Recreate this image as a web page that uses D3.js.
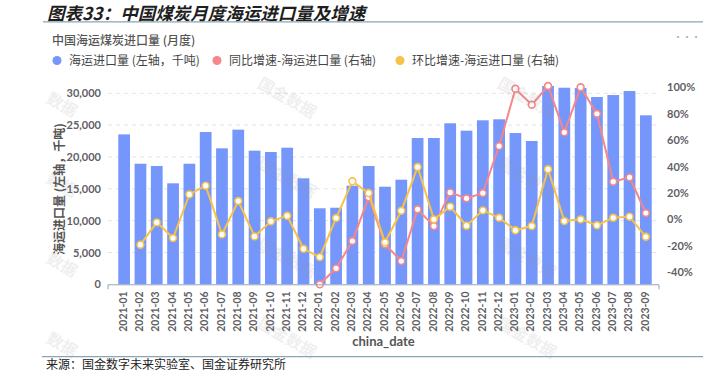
<!DOCTYPE html>
<html>
<head>
<meta charset="utf-8">
<script src="https://cdn.jsdelivr.net/npm/d3@7"></script>
<style>
  body { margin: 0; background: #fff; }
  svg { display: block; font-family: "Noto Sans CJK SC", sans-serif; }
</style>
</head>
<body>
<svg id="chart" width="707" height="383"></svg>
<script>
// data
const months = [
  "2021-01", "2021-02", "2021-03", "2021-04", "2021-05", "2021-06", "2021-07", "2021-08", "2021-09", "2021-10", "2021-11", "2021-12",
  "2022-01", "2022-02", "2022-03", "2022-04", "2022-05", "2022-06", "2022-07", "2022-08", "2022-09", "2022-10", "2022-11", "2022-12",
  "2023-01", "2023-02", "2023-03", "2023-04", "2023-05", "2023-06", "2023-07", "2023-08", "2023-09"
];
// 海运进口量 (千吨)
const imports = [
  23550, 18940, 18580, 15860, 18940, 23920, 21360, 24290, 20990, 20780, 21460, 16650,
  11940, 12030, 15490, 18580, 15330, 16430, 22980, 22980, 25290, 24130, 25760, 25920,
  23760, 22510, 31150, 30880, 30830, 29420, 29730, 30360, 26540
];
// 同比增速 (%)
const yoy = [
  null, null, null, null, null, null, null, null, null, null, null, null,
  -49.2, -37.1, -16.4, 16.7, -18.9, -31.6, 7.6, -5.1, 20.4, 15.9, 19.9, 55.5,
  98.9, 86.8, 101.0, 65.9, 100.0, 80.0, 28.5, 31.8, 4.8
];
// 环比增速 (%)
const mom = [
  null, -19.2, -2.3, -14.2, 18.9, 25.5, -11.4, 13.9, -12.9, -1.5, 2.7, -22.3,
  -28.6, 1.0, 28.8, 19.9, -17.4, 6.5, 39.6, 0.0, 9.6, -4.8, 6.8, 1.2,
  -8.3, -5.1, 37.9, -1.3, 0.0, -4.5, 1.2, 2.0, -13.2
];
const leftTicks = [0, 5000, 10000, 15000, 20000, 25000, 30000];
const rightTicks = [-40, -20, 0, 20, 40, 60, 80, 100];
const seriesNames = ["海运进口量 (左轴，千吨)", "同比增速-海运进口量 (右轴)", "环比增速-海运进口量 (右轴)"];

const colors = { bar: "#7596fb", yoy: "#f6868a", mom: "#f7c24a" };
const svg = d3.select("#chart");
const plot = { left: 108, right: 659, top: 86, bottom: 284.3 };

// title block
svg.append("text")
  .attr("x", 47).attr("y", 19.5)
  .style("font-size", "17.5px").style("font-style", "italic").style("font-weight", "bold")
  .attr("fill", "#1e1e1e")
  .text("图表33：中国煤炭月度海运进口量及增速");
svg.append("line")
  .attr("x1", 43).attr("x2", 703).attr("y1", 21.8).attr("y2", 21.8)
  .attr("stroke", "#8aa4b4").attr("stroke-width", 1.3);

svg.append("text")
  .attr("x", 52).attr("y", 45)
  .style("font-size", "12px").style("font-weight", 500)
  .attr("fill", "#555")
  .text("中国海运煤炭进口量 (月度)");
svg.append("text")
  .attr("x", 687).attr("y", 40).attr("text-anchor", "middle")
  .style("font-size", "9px").attr("fill", "#aaa")
  .text("···");

// legend
const legendX = [57, 217, 400];
const legendColors = [colors.bar, colors.yoy, colors.mom];
const legend = svg.append("g");
seriesNames.forEach((name, i) => {
  legend.append("circle")
    .attr("cx", legendX[i]).attr("cy", 60.5).attr("r", 4.5)
    .attr("fill", legendColors[i]);
  legend.append("text")
    .attr("x", legendX[i] + 12).attr("y", 64.8)
    .style("font-size", "12px").attr("fill", "#444")
    .text(name);
});

// scales
const xScale = d3.scaleBand()
  .domain(months)
  .range([116, 654])
  .paddingInner(0.28)
  .paddingOuter(0.14);

const yLeft = d3.scaleLinear()
  .domain([0, d3.max(imports)])
  .range([plot.bottom, plot.top]);

const yRight = d3.scaleLinear()
  .domain(d3.extent(yoy.concat(mom).filter((d) => d != null)))
  .range([plot.bottom, plot.top]);

// dashed grid on the left ticks
svg.append("g")
  .selectAll("line")
  .data(leftTicks.slice(1))
  .enter()
  .append("line")
  .attr("x1", plot.left).attr("x2", plot.right)
  .attr("y1", (d) => yLeft(d)).attr("y2", (d) => yLeft(d))
  .attr("stroke", "#e4e4e4")
  .attr("stroke-dasharray", "4,4");

// bars
svg.append("g")
  .selectAll("rect")
  .data(imports)
  .enter()
  .append("rect")
  .attr("x", (d, i) => xScale(months[i]))
  .attr("y", (d) => yLeft(d))
  .attr("width", xScale.bandwidth())
  .attr("height", (d) => plot.bottom - yLeft(d))
  .attr("fill", colors.bar);

// lines
const cx = (i) => xScale(months[i]) + xScale.bandwidth() / 2;
function drawLine(values, color) {
  const line = d3.line()
    .defined((d) => d != null)
    .x((d, i) => cx(i))
    .y((d) => yRight(d));
  svg.append("path")
    .datum(values)
    .attr("d", line)
    .attr("fill", "none")
    .attr("stroke", color)
    .attr("stroke-width", 2);
  svg.append("g")
    .selectAll("circle")
    .data(values.map((v, i) => ({ v, i })).filter((d) => d.v != null))
    .enter()
    .append("circle")
    .attr("cx", (d) => cx(d.i))
    .attr("cy", (d) => yRight(d.v))
    .attr("r", 3.4)
    .attr("fill", "#fff")
    .attr("stroke", color)
    .attr("stroke-width", 1.6);
}
drawLine(yoy, colors.yoy);
drawLine(mom, colors.mom);

// left axis
const leftAxis = svg.append("g")
  .attr("transform", `translate(${plot.left},0)`)
  .call(d3.axisLeft(yLeft).tickValues(leftTicks).tickSize(0).tickPadding(7).tickFormat(d3.format(",")));
leftAxis.select(".domain").remove();
leftAxis.selectAll("text")
  .style("font-family", "Lato, sans-serif").style("font-size", "11px").style("font-weight", "bold")
  .attr("fill", "#5f5f66");

// right axis
const rightAxis = svg.append("g")
  .attr("transform", `translate(${plot.right},0)`)
  .call(d3.axisRight(yRight).tickValues(rightTicks).tickSize(0).tickPadding(8).tickFormat((d) => d + "%"));
rightAxis.select(".domain").remove();
rightAxis.selectAll("text")
  .style("font-family", "Lato, sans-serif").style("font-size", "11px").style("font-weight", "bold")
  .attr("fill", "#5f5f66");

// bottom axis: line with end ticks, rotated labels
svg.append("path")
  .attr("d", `M${plot.left},${plot.bottom + 5}V${plot.bottom + 0.5}H${plot.right}V${plot.bottom + 5}`)
  .attr("fill", "none")
  .attr("stroke", "#95a3b5")
  .attr("stroke-width", 1);
svg.append("g")
  .selectAll("text")
  .data(months)
  .enter()
  .append("text")
  .attr("transform", (d) => `translate(${xScale(d) + xScale.bandwidth() / 2 - 1},${plot.bottom + 7}) rotate(-90)`)
  .attr("text-anchor", "end")
  .attr("dy", "0.35em")
  .style("font-family", "Lato, sans-serif").style("font-size", "10.5px").style("font-weight", "bold")
  .attr("fill", "#5f5f66")
  .text((d) => d);

// axis titles
svg.append("text")
  .attr("x", (plot.left + plot.right) / 2).attr("y", 345.5)
  .attr("text-anchor", "middle")
  .style("font-family", "Lato, sans-serif").style("font-size", "13px").style("font-weight", "bold")
  .attr("fill", "#555")
  .text("china_date");
svg.append("text")
  .attr("transform", "translate(63.5,189) rotate(-90)")
  .attr("text-anchor", "middle")
  .style("font-size", "12px").style("font-weight", "bold")
  .attr("fill", "#555")
  .text("海运进口量 (左轴，千吨)");

// watermark: full marks in two columns, the left column only shows its tail
const marks = [];
[287, 527].forEach((x) => [98, 178, 258, 338].forEach((y) => marks.push({ x, y, t: "国金数据" })));
[98, 178, 258, 338].forEach((y) => marks.push({ x: 62, y: y + 7, t: "数据" }));
svg.append("g")
  .selectAll("text")
  .data(marks)
  .enter()
  .append("text")
  .attr("transform", (d) => `translate(${d.x},${d.y}) rotate(30)`)
  .attr("text-anchor", "middle")
  .attr("dy", "0.35em")
  .style("font-size", "16px").style("font-weight", "bold")
  .attr("fill", "#999")
  .attr("opacity", 0.15)
  .text((d) => d.t);

// footer
svg.append("line")
  .attr("x1", 42).attr("x2", 703).attr("y1", 356.7).attr("y2", 356.7)
  .attr("stroke", "#8aa4b4").attr("stroke-width", 1.3);
svg.append("text")
  .attr("x", 46).attr("y", 369)
  .style("font-size", "12px").attr("fill", "#222")
  .text("来源：国金数字未来实验室、国金证券研究所");
</script>
</body>
</html>
